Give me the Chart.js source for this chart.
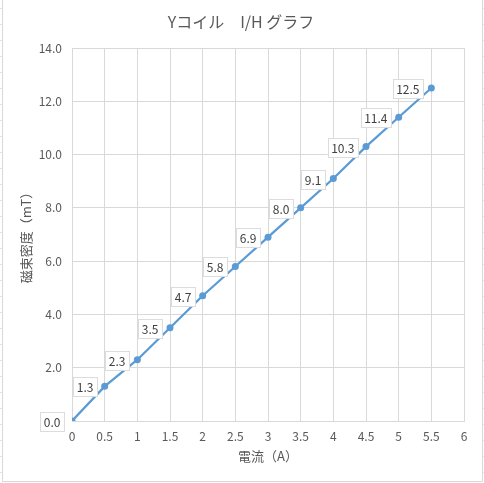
<!DOCTYPE html>
<html>
<head>
<meta charset="utf-8">
<script src="https://cdn.jsdelivr.net/npm/chart.js@4.4.0/dist/chart.umd.min.js"></script>
<style>
  body { margin: 0; background: #fff; }
  .wrap { width: 484px; height: 483px; position: relative; }
</style>
</head>
<body>
<div class="wrap"><canvas id="myChart"></canvas></div>
<script>
const current = [0, 0.5, 1, 1.5, 2, 2.5, 3, 3.5, 4, 4.5, 5, 5.5];
const flux = [0.0, 1.3, 2.3, 3.5, 4.7, 5.8, 6.9, 8.0, 9.1, 10.3, 11.4, 12.5];
const chartTitle = "Yコイル　I/H グラフ";

const fontFamily = "'Noto Sans CJK JP', 'Noto Sans', sans-serif";
const textColor = "#595959";
const gridColor = "#d9d9d9";

// frame of the chart object + sheet cell lines peeking out at the edges, and the title
const sheetFrame = {
  id: "sheetFrame",
  beforeDraw(chart) {
    const c = chart.ctx;
    c.save();
    c.fillStyle = "#fff";
    c.fillRect(0, 0, chart.width, chart.height);
    c.strokeStyle = "#e3e3e3";
    c.lineWidth = 1;
    for (let y = 8.5; y < chart.height; y += 16) {
      c.beginPath(); c.moveTo(0, y); c.lineTo(2, y); c.stroke();
      c.beginPath(); c.moveTo(483, y); c.lineTo(484, y); c.stroke();
    }
    c.strokeStyle = gridColor;
    c.beginPath();
    c.moveTo(2.5, 0); c.lineTo(2.5, 481.5); c.lineTo(482.5, 481.5); c.lineTo(482.5, 0);
    c.stroke();
    c.font = "16px " + fontFamily;
    c.fillStyle = textColor;
    c.textAlign = "center";
    c.textBaseline = "middle";
    c.fillText(chartTitle, 241, 22);
    c.restore();
  }
};

// value labels, boxed, to the left of each point
const boxLabels = {
  id: "boxLabels",
  afterDatasetsDraw(chart) {
    const c = chart.ctx;
    const meta = chart.getDatasetMeta(0);
    c.save();
    c.font = "12px " + fontFamily;
    c.textBaseline = "middle";
    c.textAlign = "center";
    meta.data.forEach((pt, i) => {
      const txt = flux[i].toFixed(1);
      const w = c.measureText(txt).width + 7;
      const h = 19;
      const right = Math.round(pt.x) - 8;
      const top = Math.round(pt.y) - 9;
      c.fillStyle = "#fff";
      c.fillRect(right - w, top, w, h);
      c.strokeStyle = "#dcdcdc";
      c.lineWidth = 1;
      c.strokeRect(Math.round(right - w) + 0.5, top + 0.5, Math.round(w), h);
      c.fillStyle = "#404040";
      c.fillText(txt, right - w / 2, top + h / 2 + 0.5);
    });
    c.restore();
  }
};

const ctx = document.getElementById("myChart");
new Chart(ctx, {
  type: "line",
  data: {
    datasets: [
      {
        label: "磁束密度",
        data: current.map((x, i) => ({ x: x, y: flux[i] })),
        borderColor: "#5b9bd5",
        backgroundColor: "#5b9bd5",
        borderWidth: 2.25,
        pointRadius: 3.5,
        pointBorderWidth: 0,
        tension: 0,
      },
    ],
  },
  options: {
    responsive: true,
    maintainAspectRatio: false,
    animation: false,
    events: [],
    layout: {
      padding: { left: 0, right: 20, top: 48, bottom: 0 },
    },
    plugins: {
      legend: { display: false },
      tooltip: { enabled: false },
      title: { display: false },
    },
    scales: {
      x: {
        type: "linear",
        min: 0,
        max: 6,
        ticks: {
          stepSize: 0.5,
          color: textColor,
          padding: 8,
          maxRotation: 0,
          font: { family: fontFamily, size: 12 },
          callback: (v) => String(v),
        },
        grid: { color: gridColor, drawTicks: false },
        border: { color: gridColor },
        title: {
          display: true,
          text: "電流（A）",
          color: textColor,
          font: { family: fontFamily, size: 13, lineHeight: 1.2 },
          padding: { top: 0, bottom: 19 },
        },
        afterFit: (s) => { s.height = 62; },
      },
      y: {
        min: 0,
        max: 14,
        ticks: {
          stepSize: 2,
          color: textColor,
          padding: 10,
          font: { family: fontFamily, size: 12 },
          callback: (v) => v.toFixed(1),
        },
        grid: { color: gridColor, drawTicks: false },
        border: { color: gridColor },
        title: {
          display: true,
          text: "磁束密度（mT）",
          color: textColor,
          font: { family: fontFamily, size: 13, lineHeight: 1.2 },
          padding: { top: 18, bottom: 0 },
        },
        afterFit: (s) => { s.width = 72; },
      },
    },
  },
  plugins: [sheetFrame, boxLabels],
});
</script>
</body>
</html>
